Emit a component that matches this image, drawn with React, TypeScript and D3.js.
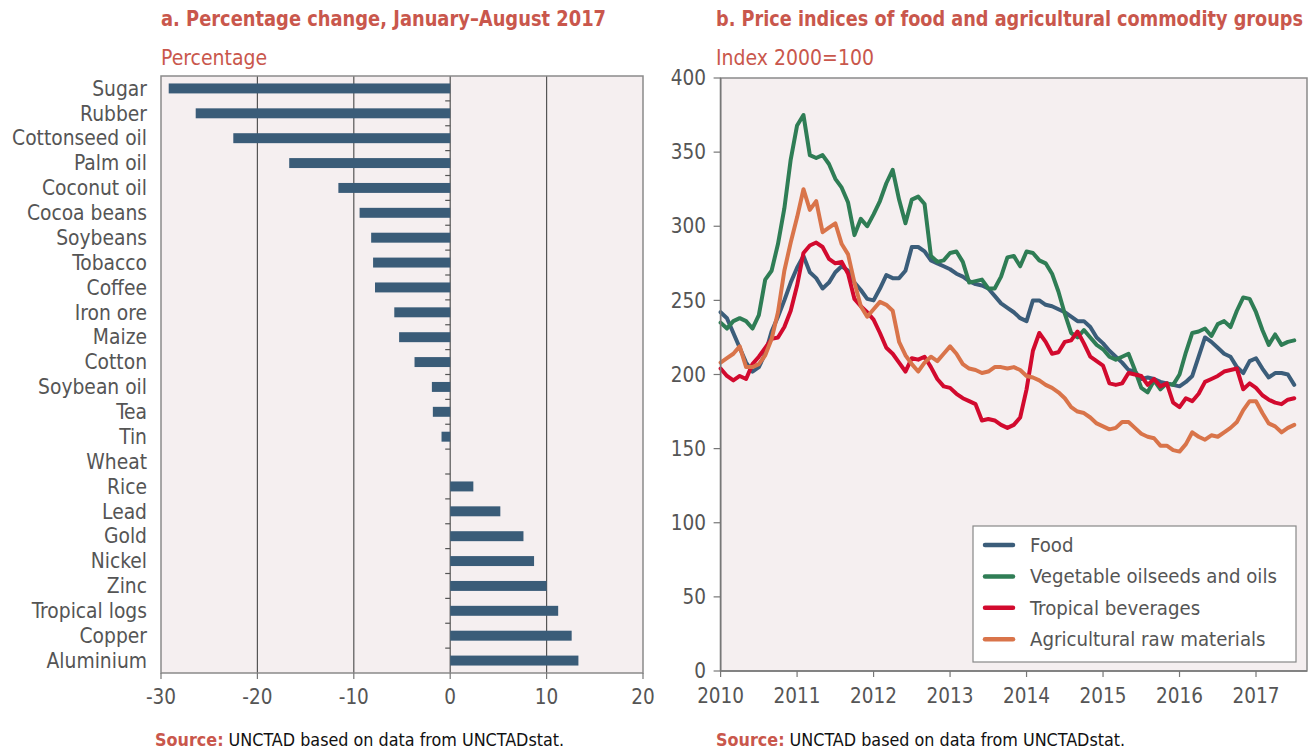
import React from "react";
import * as d3 from "d3";

// ---------- Panel a data ----------
const commodities = [
  "Sugar", "Rubber", "Cottonseed oil", "Palm oil", "Coconut oil", "Cocoa beans",
  "Soybeans", "Tobacco", "Coffee", "Iron ore", "Maize", "Cotton", "Soybean oil",
  "Tea", "Tin", "Wheat", "Rice", "Lead", "Gold", "Nickel", "Zinc",
  "Tropical logs", "Copper", "Aluminium",
];
const pctChange = [
  -29.2, -26.4, -22.5, -16.7, -11.6, -9.4, -8.2, -8.0, -7.8, -5.8, -5.3, -3.7, -1.9,
  -1.8, -0.9, 0.0, 2.4, 5.2, 7.6, 8.7, 10.0, 11.2, 12.6, 13.3,
];
const pctTicks = [-30, -20, -10, 0, 10, 20];
const pctGrid = [-20, -10, 0, 10];

// ---------- Panel b data (monthly, Jan 2010 – Jul 2017) ----------
const startYear = 2010;
const yearTicks = [2010, 2011, 2012, 2013, 2014, 2015, 2016, 2017];
const indexTicks = [0, 50, 100, 150, 200, 250, 300, 350, 400];

const food = [
  242, 238, 228, 218, 208, 202, 205, 214, 229, 239, 250, 262,
  272, 280, 269, 265, 258, 262, 269, 273, 270, 262, 257, 251,
  250, 258, 267, 265, 265, 270, 286, 286, 283, 277, 275, 273,
  271, 268, 266, 263, 261, 260, 258, 253, 248, 245, 242, 238,
  236, 250, 250, 247, 246, 244, 242, 239, 236, 236, 232, 225,
  221, 216, 212, 208, 203, 202, 197, 198, 197, 195, 194, 193,
  192, 195, 199, 212, 225, 222, 218, 214, 212, 205, 201, 209,
  211, 204, 198, 201, 201, 200, 193,
];
const vegOils = [
  235, 231, 236, 238, 236, 231, 240, 264, 270, 288, 312, 345,
  368, 375, 348, 346, 348, 342, 332, 326, 316, 294, 305, 300,
  308, 317, 329, 338, 318, 302, 318, 320, 315, 280, 276, 277,
  282, 283, 276, 262, 263, 264, 258, 258, 266, 279, 280, 273,
  283, 282, 277, 275, 268, 256, 241, 228, 225, 230, 225, 220,
  217, 212, 210, 212, 214, 203, 191, 188, 196, 190, 194, 193,
  200, 215, 228, 229, 231, 226, 234, 236, 232, 243, 252, 251,
  242, 230, 220, 227, 220, 222, 223,
];
const beverages = [
  204, 199, 196, 199, 197, 207, 212, 218, 224, 225, 232, 243,
  260, 282, 287, 289, 286, 278, 275, 276, 268, 251, 246, 242,
  237, 228, 218, 214, 208, 202, 211, 210, 212, 205, 197, 192,
  191, 187, 184, 182, 180, 169, 170, 169, 166, 164, 166, 171,
  190, 216, 228, 222, 214, 215, 222, 223, 229, 221, 212, 209,
  206, 194, 193, 194, 201, 200, 199, 193, 197, 192, 194, 181,
  178, 184, 182, 187, 195, 197, 199, 202, 203, 204, 190, 194,
  191, 186, 183, 181, 180, 183, 184,
];
const rawMaterials = [
  208, 211, 214, 219, 205, 205, 207, 213, 224, 242, 270, 289,
  306, 325, 311, 317, 296, 299, 302, 288, 281, 262, 246, 239,
  244, 249, 247, 243, 222, 213, 207, 202, 208, 212, 209, 214,
  219, 214, 207, 204, 203, 201, 202, 205, 205, 204, 205, 203,
  199, 198, 196, 193, 191, 188, 184, 178, 175, 174, 171, 167,
  165, 163, 164, 168, 168, 164, 160, 158, 157, 152, 152, 149,
  148, 153, 161, 158, 156, 159, 158, 161, 164, 168, 176, 182,
  182, 174, 167, 165, 161, 164, 166,
];

const seriesNames = ["Food", "Vegetable oilseeds and oils", "Tropical beverages", "Agricultural raw materials"];
const seriesValues = [food, vegOils, beverages, rawMaterials];
const seriesColors = ["#3b5d7a", "#2f7d55", "#d20a2e", "#d9744a"];

// ---------- Styling ----------
const W = 1315;
const H = 752;
const FONT = "'Liberation Sans Narrow', 'DejaVu Sans Condensed', 'Roboto Condensed', 'Liberation Sans', sans-serif";
const RED = "#c9574c";
const TXT = "#555555";
const BG = "#f5eff0";
const BAR = "#3a5c78";

export default function App() {
  // ---- Panel a scales ----
  const aLeft = 161, aRight = 643, aTop = 76, aBottom = 673;
  const xA = d3.scaleLinear().domain([-30, 20]).range([aLeft, aRight]);
  const yA = d3.scaleBand<string>().domain(commodities).range([aTop, aBottom]).paddingInner(0.6).paddingOuter(0.3);
  const bandA = d3.scaleBand<string>().domain(commodities).range([aTop, aBottom]);

  // ---- Panel b scales ----
  const bLeft = 720.6, bRight = 1307, bTop = 78, bBottom = 671;
  const xB = d3.scaleLinear().domain([2010, 2017 + 8 / 12]).range([bLeft, bRight]);
  const yB = d3.scaleLinear().domain([0, 400]).range([bBottom, bTop]);
  const line = d3
    .line<number>()
    .x((_, i) => xB(startYear + i / 12))
    .y((v) => yB(v))
    .curve(d3.curveLinear);

  const legendX = 973, legendY = 526, legendW = 323, legendH = 136;

  return (
    <svg width={W} height={H} style={{ display: "block", position: "absolute", left: 0, top: 0 }} fontFamily={FONT}>
      <rect x={0} y={0} width={W} height={H} fill="#ffffff" />

      {/* ===== Panel a ===== */}
      <text x={161} y={26} fill={RED} fontWeight="bold" fontSize={22} textLength={445} lengthAdjust="spacingAndGlyphs">
        a. Percentage change, January–August 2017
      </text>
      <text x={161} y={65} fill={RED} fontSize={21}>Percentage</text>

      <rect x={aLeft} y={aTop} width={aRight - aLeft} height={aBottom - aTop} fill={BG} />
      {pctGrid.map((t) => (
        <line key={"g" + t} x1={xA(t)} x2={xA(t)} y1={aTop} y2={aBottom} stroke="#555" strokeWidth={1.2} />
      ))}
      {/* small ticks on the zero line at category boundaries */}
      {commodities.slice(1).map((c) => (
        <line key={"tk" + c} x1={xA(0) - 5} x2={xA(0)} y1={bandA(c)!} y2={bandA(c)!} stroke="#555" strokeWidth={1.2} />
      ))}
      {commodities.map((c, i) => {
        const v = pctChange[i];
        if (v === 0) return null;
        const x0 = xA(Math.min(0, v));
        const x1 = xA(Math.max(0, v));
        return <rect key={"b" + c} x={x0} y={yA(c)!} width={x1 - x0} height={yA.bandwidth()} fill={BAR} />;
      })}
      <rect x={aLeft} y={aTop} width={aRight - aLeft} height={aBottom - aTop} fill="none" stroke="#8a8a8a" strokeWidth={1.5} />
      {commodities.map((c) => (
        <text key={"l" + c} x={147} y={bandA(c)! + bandA.bandwidth() / 2} dy="0.35em" textAnchor="end" fill={TXT} fontSize={20.8}>
          {c}
        </text>
      ))}
      {pctTicks.map((t) => (
        <g key={"xt" + t}>
          <line x1={xA(t)} x2={xA(t)} y1={aBottom} y2={aBottom + 6} stroke="#777" strokeWidth={1.2} />
          <text x={xA(t)} y={697} dy="0.35em" textAnchor="middle" fill={TXT} fontSize={20.5}>
            {t}
          </text>
        </g>
      ))}
      <text x={155} y={746} fontSize={17.8}>
        <tspan fill={RED} fontWeight="bold">Source:</tspan>
        <tspan fill="#111"> UNCTAD based on data from UNCTADstat.</tspan>
      </text>

      {/* ===== Panel b ===== */}
      <text x={716} y={26} fill={RED} fontWeight="bold" fontSize={22} textLength={587} lengthAdjust="spacingAndGlyphs">
        b. Price indices of food and agricultural commodity groups
      </text>
      <text x={716} y={65} fill={RED} fontSize={21}>Index 2000=100</text>

      <rect x={bLeft} y={bTop} width={bRight - bLeft} height={bBottom - bTop} fill={BG} stroke="#8a8a8a" strokeWidth={1.5} />
      {seriesValues.map((vals, k) => (
        <path
          key={"s" + k}
          d={line(vals) ?? ""}
          fill="none"
          stroke={seriesColors[k]}
          strokeWidth={4}
          strokeLinejoin="round"
          strokeLinecap="round"
        />
      ))}
      <line x1={bLeft} x2={bLeft} y1={bTop} y2={bBottom} stroke="#777" strokeWidth={1.5} />
      <line x1={bLeft} x2={bRight} y1={bBottom} y2={bBottom} stroke="#777" strokeWidth={1.5} />
      {indexTicks.map((t) => (
        <g key={"yt" + t}>
          <line x1={bLeft - 7} x2={bLeft} y1={yB(t)} y2={yB(t)} stroke="#777" strokeWidth={1.2} />
          <text x={706} y={yB(t)} dy="0.35em" textAnchor="end" fill={TXT} fontSize={20.5}>
            {t}
          </text>
        </g>
      ))}
      {yearTicks.map((t) => (
        <g key={"yr" + t}>
          <line x1={xB(t)} x2={xB(t)} y1={bBottom} y2={bBottom + 6} stroke="#777" strokeWidth={1.2} />
          <text x={xB(t)} y={696} dy="0.35em" textAnchor="middle" fill={TXT} fontSize={20.5}>
            {t}
          </text>
        </g>
      ))}

      {/* legend */}
      <rect x={legendX} y={legendY} width={legendW} height={legendH} fill="#ffffff" stroke="#888" strokeWidth={1.2} />
      {seriesNames.map((n, k) => {
        const cy = 545 + k * 31.4;
        return (
          <g key={"lg" + n}>
            <line x1={985} x2={1013} y1={cy} y2={cy} stroke={seriesColors[k]} strokeWidth={4.5} strokeLinecap="round" />
            <text x={1030} y={cy} dy="0.35em" fill={TXT} fontSize={20.2}>
              {n}
            </text>
          </g>
        );
      })}

      <text x={716} y={746} fontSize={17.8}>
        <tspan fill={RED} fontWeight="bold">Source:</tspan>
        <tspan fill="#111"> UNCTAD based on data from UNCTADstat.</tspan>
      </text>
    </svg>
  );
}
